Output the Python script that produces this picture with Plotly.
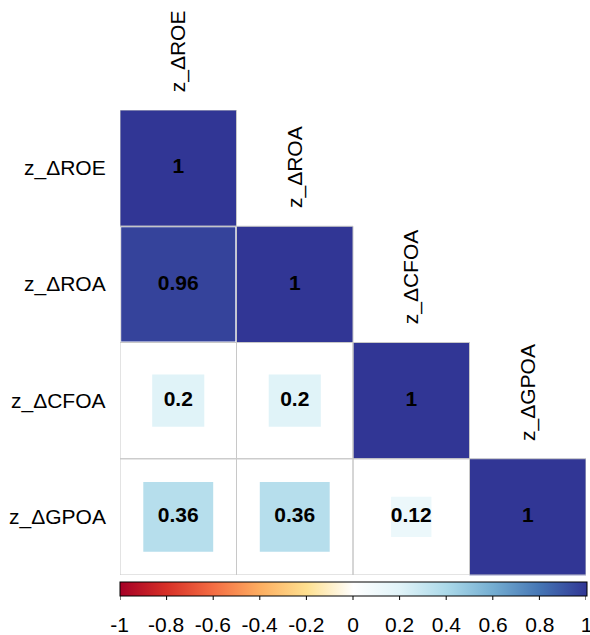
import numpy as np
import plotly.graph_objects as go

labels = ["z_ΔROE", "z_ΔROA", "z_ΔCFOA", "z_ΔGPOA"]
corr = [
    [1.00, None, None, None],
    [0.96, 1.00, None, None],
    [0.20, 0.20, 1.00, None],
    [0.36, 0.36, 0.12, 1.00],
]
cbar_ticks = [-1, -0.8, -0.6, -0.4, -0.2, 0, 0.2, 0.4, 0.6, 0.8, 1]
cbar_ticktext = ["-1", "-0.8", "-0.6", "-0.4", "-0.2", "0", "0.2", "0.4", "0.6", "0.8", "1"]

pal = ['#A50026', '#D73027', '#F46D43', '#FDAE61', '#FEE090', '#FFFFFF',
       '#E0F3F8', '#ABD9E9', '#74ADD1', '#4575B4', '#313695']
colorscale = [[i / (len(pal) - 1), c] for i, c in enumerate(pal)]

W, H = 590, 635
ml, mr, mt, mb = 120, 4, 110, 60
n = len(labels)
plot_w = W - ml - mr
plot_h = H - mt - mb
cell_px = plot_w / n
FONT = "Liberation Sans, Arial, sans-serif"
cb_gap, cb_thick, tick_len = 7, 14, 4

xs, ys, vals, sizes, txt = [], [], [], [], []
for i in range(n):
    for j in range(n):
        v = corr[i][j]
        if v is None:
            continue
        xs.append(j + 1)
        ys.append(i + 1)
        vals.append(v)
        sizes.append(cell_px * np.sqrt(abs(v)))
        txt.append(f"{v:g}")

fig = go.Figure()
fig.add_trace(go.Scatter(
    x=xs, y=ys, mode="markers+text",
    text=txt, textposition="middle center",
    textfont=dict(family=FONT, size=21, color="black", weight="bold"),
    marker=dict(symbol="square", size=sizes, color=vals, cmin=-1, cmax=1,
                colorscale=colorscale, line=dict(width=0), opacity=1,
                showscale=True,
                colorbar=dict(orientation="h", thickness=cb_thick, thicknessmode="pixels",
                              len=plot_w + 1, lenmode="pixels",
                              x=0.5, xanchor="center", y=-cb_gap / plot_h, yanchor="top",
                              xpad=0, ypad=0,
                              outlinewidth=1, outlinecolor="black",
                              ticks="outside", ticklen=11, tickcolor="rgba(0,0,0,0)",
                              tickvals=cbar_ticks, ticktext=cbar_ticktext,
                              ticklabeloverflow="allow",
                              tickfont=dict(family=FONT, size=21, color="black"))),
    hoverinfo="skip", showlegend=False, cliponaxis=False,
))

shapes = []
for i in range(n):
    for j in range(i + 1):
        shapes.append(dict(type="rect", xref="x", yref="y",
                           x0=j + 0.5, x1=j + 1.5, y0=i + 0.5, y1=i + 1.5,
                           line=dict(color="#C8C8C8", width=1), fillcolor="rgba(0,0,0,0)",
                           layer="above"))
# short visible colorbar ticks (labels are pushed further down by the transparent ticks)
cb_bottom = -(cb_gap + cb_thick) / plot_h
for t in cbar_ticks:
    xv = 0.5 + (t + 1) / 2 * n
    shapes.append(dict(type="line", xref="x", yref="paper", x0=xv, x1=xv,
                       y0=cb_bottom, y1=cb_bottom - tick_len / plot_h,
                       line=dict(color="black", width=1)))

annotations = []
for i, lab in enumerate(labels):
    annotations.append(dict(x=0, xref="paper", y=i + 1, yref="y", text=lab,
                            showarrow=False, xanchor="right", yanchor="middle",
                            xshift=-12, font=dict(family=FONT, size=21, color="black")))
    annotations.append(dict(x=i + 1, xref="x", y=i + 0.5, yref="y", text=lab,
                            showarrow=False, textangle=-90, xanchor="center",
                            yanchor="bottom", yshift=16,
                            font=dict(family=FONT, size=21, color="black")))

fig.update_layout(
    width=W, height=H,
    margin=dict(l=ml, r=mr, t=mt, b=mb, autoexpand=False),
    paper_bgcolor="white", plot_bgcolor="white",
    xaxis=dict(range=[0.5, n + 0.5], visible=False, fixedrange=True),
    yaxis=dict(range=[n + 0.5, 0.5], visible=False, fixedrange=True),
    shapes=shapes, annotations=annotations,
)
fig.write_html("out.html", config={"displayModeBar": False},
               post_script="document.body.style.margin='0';document.body.style.overflow='hidden';")
